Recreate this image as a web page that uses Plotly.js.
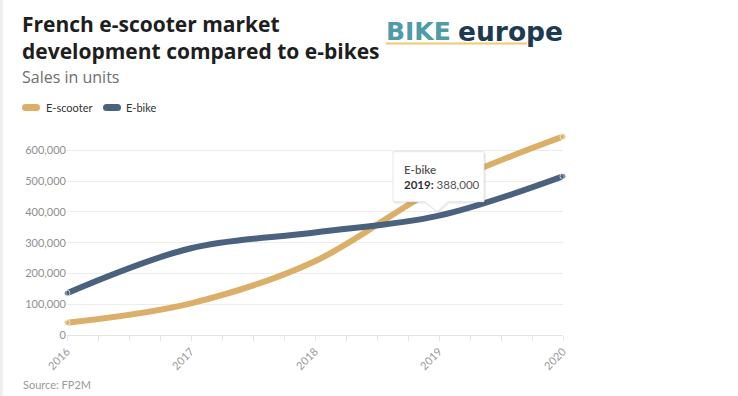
<!DOCTYPE html>
<html>
<head>
<meta charset="utf-8">
<script src="https://cdn.plot.ly/plotly-3.0.1.min.js"></script>
<style>
  html, body { margin: 0; padding: 0; background: #fff; }
  #chart { width: 738px; height: 396px; }
</style>
</head>
<body>
<div id="chart"></div>
<script>
// ---- data ----
const years = [2016, 2017, 2018, 2019, 2020];
const escooter = [40000, 103000, 240000, 480000, 645000];
const ebike = [136000, 282000, 333000, 388000, 516000];
const seriesNames = ['E-scooter', 'E-bike'];
const yTickVals = [0, 100000, 200000, 300000, 400000, 500000, 600000];
const titleText = 'French e-scooter market<br>development compared to e-bikes';
const subtitleText = 'Sales in units';
const sourceText = 'Source: FP2M';
const hoverIndex = 3;

// ---- layout geometry ----
const W = 738, H = 396;
const M = { l: 67, r: 175, t: 132, b: 61 };
const plotW = W - M.l - M.r, plotH = H - M.t - M.b;
const px = x => (x - M.l) / plotW;
const py = y => (H - M.b - y) / plotH;

const colors = ['#dbaf67', '#4b627e'];
const FONT = 'Lato, "Open Sans", sans-serif';
const HFONT = '"Open Sans", Lato, sans-serif';

const traces = [escooter, ebike].map((vals, i) => ({
  x: years,
  y: vals,
  name: seriesNames[i],
  type: 'scatter',
  mode: 'lines+markers',
  line: { color: colors[i], width: 6, shape: 'spline', smoothing: 1 },
  marker: { color: colors[i], size: vals.map((v, k) => (k === 0 || k === vals.length - 1) ? 6 : 0) },
  cliponaxis: false,
  hoverinfo: 'skip',
  showlegend: false
}));

function roundRect(w, h) {
  const r = h / 2;
  return `M${r},${-r} H${w - r} Q${w},${-r} ${w},0 Q${w},${r} ${w - r},${r} H${r} Q0,${r} 0,0 Q0,${-r} ${r},${-r} Z`;
}

const legendItems = [
  { swatchX: 22, textX: 44 },
  { swatchX: 103, textX: 124 }
];

const shapes = [];
const annotations = [];

// left border strip
shapes.push({ type: 'rect', xref: 'paper', yref: 'paper', x0: px(0), x1: px(3), y0: py(H), y1: py(0),
  fillcolor: '#efefef', line: { width: 0 }, layer: 'below' });

// title
annotations.push({ xref: 'paper', yref: 'paper', x: px(20), y: py(8), xanchor: 'left', yanchor: 'top', align: 'left',
  text: '<b>' + titleText + '</b>', showarrow: false, font: { family: HFONT, size: 21, color: '#1e1e1e' } });

legendItems.forEach((it, i) => {
  shapes.push({ type: 'path', xref: 'paper', yref: 'paper', xsizemode: 'pixel', ysizemode: 'pixel',
    xanchor: px(it.swatchX), yanchor: py(107.5), path: roundRect(18, 7),
    fillcolor: colors[i], line: { width: 0 } });
  annotations.push({ xref: 'paper', yref: 'paper', x: px(it.textX), y: py(107.5), xanchor: 'left', yanchor: 'middle',
    text: seriesNames[i], showarrow: false, font: { family: FONT, size: 11, color: '#333' } });
});

// subtitle
annotations.push({ xref: 'paper', yref: 'paper', x: px(20), y: py(77), xanchor: 'left', yanchor: 'middle',
  text: subtitleText, showarrow: false, font: { family: HFONT, size: 16, color: '#6f6f6f' } });

// source
annotations.push({ xref: 'paper', yref: 'paper', x: px(21), y: py(384), xanchor: 'left', yanchor: 'middle',
  text: sourceText, showarrow: false, font: { family: FONT, size: 11, color: '#9a9a9a' } });

// logo
annotations.push({ xref: 'paper', yref: 'paper', x: px(384), y: py(31), xanchor: 'left', yanchor: 'middle',
  text: '<b>BIKE</b>', showarrow: false, font: { family: 'DejaVu Sans', size: 25, color: '#4f9ba8' } });
annotations.push({ xref: 'paper', yref: 'paper', x: px(456), y: py(31), xanchor: 'left', yanchor: 'middle',
  text: '<b>europe</b>', showarrow: false, font: { family: 'DejaVu Sans', size: 26.5, color: '#1d3b50' } });
shapes.push({ type: 'line', xref: 'paper', yref: 'paper', x0: px(386), x1: px(527), y0: py(43.5), y1: py(43.5),
  line: { color: '#f2c96c', width: 2 } });

// tooltip
const tipPath = 'M-46,64 H45 V14 H9 L-2,4 L-14,14 H-46 Z';
shapes.push({ type: 'path', xref: 'x', yref: 'y', xsizemode: 'pixel', ysizemode: 'pixel',
  xanchor: years[hoverIndex], yanchor: ebike[hoverIndex],
  path: 'M-45,62 H47 V12 H10 L-1,2 L-13,12 H-45 Z', fillcolor: 'rgba(0,0,0,0.07)', line: { width: 0 } });
shapes.push({ type: 'path', xref: 'x', yref: 'y', xsizemode: 'pixel', ysizemode: 'pixel',
  xanchor: years[hoverIndex], yanchor: ebike[hoverIndex],
  path: tipPath, fillcolor: '#ffffff', line: { color: '#e6e6e6', width: 1 } });
annotations.push({ xref: 'x', yref: 'y', x: years[hoverIndex], y: ebike[hoverIndex], xshift: -37, yshift: 39,
  xanchor: 'left', yanchor: 'middle', align: 'left', showarrow: false,
  text: `<span style="font-weight:600;color:#555">${seriesNames[1]}</span><br><b style="color:#333">${years[hoverIndex]}:</b> ${ebike[hoverIndex].toLocaleString('en-US')}`,
  font: { family: FONT, size: 11.5, color: '#555' } });

const layout = {
  width: W, height: H,
  margin: M,
  paper_bgcolor: '#fff', plot_bgcolor: '#fff',
  font: { family: FONT },
  xaxis: {
    range: [years[0], years[years.length - 1]],
    tickvals: years,
    ticktext: years.map(String),
    tickangle: -45,
    showgrid: false, zeroline: false,
    showline: true, linecolor: '#e4e4e4', linewidth: 1,
    ticks: 'outside', ticklen: 5, tickcolor: '#e4e4e4',
    minor: { dtick: 0.25, ticks: 'outside', ticklen: 5, tickcolor: '#e4e4e4', showgrid: false },
    tickfont: { family: FONT, size: 11, color: '#9a9a9a' },
    fixedrange: true
  },
  yaxis: {
    range: [0, 660000],
    tickvals: yTickVals,
    tickformat: ',',
    showgrid: true, gridcolor: '#ececec', gridwidth: 1,
    zeroline: false, showline: false, ticks: '',
    tickfont: { family: FONT, size: 11, color: '#8f8f8f' },
    fixedrange: true
  },
  shapes: shapes,
  annotations: annotations,
  hovermode: false
};

Plotly.newPlot('chart', traces, layout, { displayModeBar: false, staticPlot: true });
</script>
</body>
</html>
